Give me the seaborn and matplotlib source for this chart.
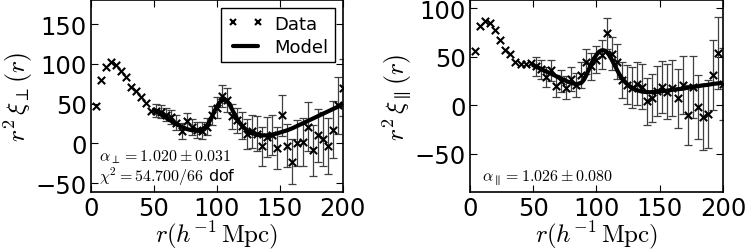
import numpy as np
import matplotlib
matplotlib.use("Agg")
import matplotlib.pyplot as plt
import seaborn as sns
from matplotlib.lines import Line2D

# bin centres (h^-1 Mpc)
r_data = [4, 8, 12, 16, 20, 24, 28, 32, 36, 40, 44, 48,
          52, 56, 60, 64, 68, 72, 76, 80, 84, 88, 92, 96, 100, 104, 108, 112,
          116, 120, 124, 128, 132, 136, 140, 144, 148, 152, 156, 160, 164, 168,
          172, 176, 180, 184, 188, 192, 196, 200]

xi_perp = [47, 79.6, 96, 102, 99, 91, 83, 71, 66, 58, 51, 41,
           41, 40, 36, 33, 26, 15, 28, 20, 17, 16, 21, 35, 45, 60, 55, 34,
           29, 22, 12, 15, 12, -4, 8, 10, -6, 35, -3, -23, 0, 2,
           21, -9, 10, 6, -3, 17, 48, 70]
# error bars only inside the fit range (r > 50)
err_perp = [8, 8, 8, 9, 9, 10, 10, 10, 10, 11, 11, 12, 13, 14, 15, 16,
            16, 17, 19, 21, 22, 24, 25, 25, 26, 26, 27, 28, 29, 30,
            31, 32, 33, 34, 35, 36, 36, 36]

xi_par = [56, 82, 86.5, 85, 77, 67, 57, 52.5, 44.5, 42, 42, 43,
          40, 37, 29, 36, 20, 25, 18, 27, 21, 31, 45, 40, 47, 52, 74, 53,
          45, 26, 21, 18, 22, 19, 4, 7.5, 14.5, 19, 14, 18, 7, 21,
          -10, 19, -2, -12, -9, 31, 53.5, 22]
err_par = [10, 10, 10, 11, 11, 11, 12, 12, 12, 13, 13, 14, 14, 15, 16, 17,
           18, 19, 20, 21, 22, 23, 24, 25, 26, 27, 28, 29, 30, 30,
           31, 32, 33, 34, 35, 36, 37, 37]

r_model = [50, 52, 56, 60, 64, 68, 72, 76, 80, 84, 88, 90, 92, 94, 96, 98,
           100, 102, 104, 106, 108, 110, 112, 114, 116, 118, 120, 124, 128,
           132, 136, 140, 144, 148, 152, 156, 160, 164, 168, 172, 176, 180,
           184, 188, 192, 196, 200]
model_perp = [42, 40, 36, 32, 28, 24, 21, 18, 16.5, 16, 17, 19, 22, 27, 33, 40,
              46, 51, 54, 55, 53.5, 49, 43, 37, 31, 26, 22, 16, 12.5,
              11, 10, 10, 11, 12.5, 14.5, 16.5, 19, 22, 25, 28, 31, 34,
              37, 40, 43, 46, 49]
model_par = [41, 40, 37.5, 35, 32.5, 30, 27.5, 25, 23, 21.5, 23, 26, 31, 37, 43, 48,
             52, 55, 56.5, 56.5, 55, 51.5, 47, 42, 37, 32, 28, 22, 18,
             15.5, 14, 13.5, 13.5, 14, 14.5, 15, 16, 16.5, 17, 18, 19, 19.5,
             20.5, 21, 22, 22.5, 23]

sns.set_style("ticks")
plt.rcParams['font.family'] = ['DejaVu Sans']
plt.rcParams['mathtext.fontset'] = 'cm'
plt.rcParams['text.color'] = 'k'
plt.rcParams['axes.labelcolor'] = 'k'

fig = plt.figure(figsize=(7.47, 2.53), dpi=100)
ax1 = fig.add_axes([0.1215, 0.238, 0.3375, 0.757])
ax2 = fig.add_axes([0.629, 0.238, 0.339, 0.757])


def draw_panel(ax, xi, err, model, ylabel, ylim, yticks):
    nfit = len(err)
    r_fit = r_data[-nfit:]
    ax.errorbar(r_fit, xi[-nfit:], yerr=err, fmt='none', ecolor='0.25',
                elinewidth=0.9, capsize=3, capthick=0.9, zorder=2)
    sns.scatterplot(x=r_data, y=xi, marker='x', color='k', s=28,
                    linewidth=1.5, ax=ax, zorder=3)
    sns.lineplot(x=r_model, y=model, color='k', lw=3, ax=ax, zorder=4)
    ax.set_xlim(0, 200)
    ax.set_ylim(*ylim)
    ax.set_xticks([0, 50, 100, 150, 200])
    ax.set_yticks(yticks)
    ax.tick_params(direction='in', top=True, right=True, length=5,
                   width=0.8, labelsize=17.5, pad=3, colors='k')
    for s in ax.spines.values():
        s.set_linewidth(1.2)
        s.set_color('k')
    ax.set_xlabel(r'$r(h^{-1}\,\mathrm{Mpc})$', fontsize=18, labelpad=-1)
    ax.set_ylabel(ylabel, fontsize=18.5, labelpad=0)


draw_panel(ax1, xi_perp, err_perp, model_perp, r'$r^2\,\xi_{\perp}(r)$',
           (-61, 180), [-50, 0, 50, 100, 150])
draw_panel(ax2, xi_par, err_par, model_par, r'$r^2\,\xi_{\parallel}(r)$',
           (-89, 108), [-50, 0, 50, 100])

ax1.text(0.033, 0.165, r'$\alpha_{\perp}=1.020\pm0.031$', transform=ax1.transAxes,
         fontsize=11.5)
ax1.text(0.033, 0.06, r'$\chi^2=54.700/66$ dof', transform=ax1.transAxes,
         fontsize=11.5)
ax2.text(0.046, 0.066, r'$\alpha_{\parallel}=1.026\pm0.080$', transform=ax2.transAxes,
         fontsize=11.5)

handles = [Line2D([], [], ls='none', marker='x', color='k', ms=5, mew=1.5),
           Line2D([], [], color='k', lw=3)]
leg = ax1.legend(handles, ['Data', 'Model'], loc='upper right', numpoints=2,
                 fontsize=13, fancybox=False, framealpha=1, edgecolor='k',
                 borderpad=0.35, handlelength=2.0, handletextpad=0.6,
                 labelspacing=0.3, borderaxespad=0.45)
leg.get_frame().set_linewidth(1.0)

fig.savefig('out.png', dpi=100)
